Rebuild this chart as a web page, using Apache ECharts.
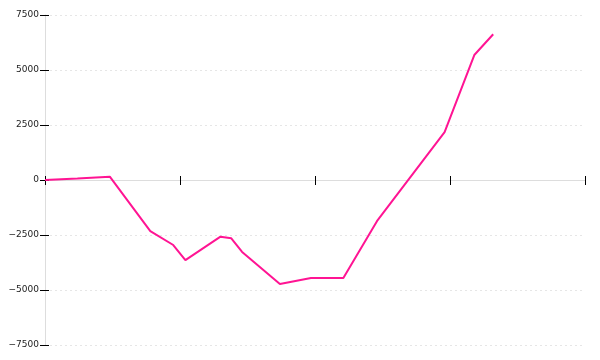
<!DOCTYPE html>
<html>
<head>
<meta charset="utf-8">
<script src="https://cdn.jsdelivr.net/npm/echarts@6/dist/echarts.min.js"></script>
<style>html,body{margin:0;padding:0;background:#fff}#c{width:600px;height:360px}</style>
</head>
<body>
<div id="c"></div>
<script>
// x positions (axis units, 4 ticks of 10) and cumulative values
var xValues = [0, 2.4, 4.8, 7.8, 9.5, 10.4, 13.0, 13.8, 14.6, 17.4, 19.7, 22.1, 24.6, 29.6, 31.8, 33.2];
var yValues = [0, 70, 150, -2320, -2955, -3640, -2575, -2650, -3270, -4730, -4455, -4455, -1860, 2180, 5680, 6625];
var yTicks = [-7500, -5000, -2500, 0, 2500, 5000, 7500];

var data = xValues.map(function (x, i) { return [x, yValues[i]]; });
var font = 'DejaVu Sans';

var chart = echarts.init(document.getElementById('c'), null, {renderer: 'canvas'});
var yBase = {
  type: 'value', min: yTicks[0], max: yTicks[yTicks.length - 1], interval: 2500,
  position: 'left'
};
chart.setOption({
  animation: false,
  grid: {left: 45, right: 15, top: 15, bottom: 15, containLabel: false},
  xAxis: [
    {type: 'value', min: 0, max: 40, interval: 10, position: 'bottom',
     axisLine: {onZero: true, lineStyle: {color: '#dddddd', width: 1}},
     axisTick: {show: true, inside: false, length: 5, lineStyle: {color: '#000'}},
     axisLabel: {show: false}, splitLine: {show: false}},
    {type: 'value', min: 0, max: 40, interval: 10, position: 'bottom',
     axisLine: {show: false, onZero: true},
     axisTick: {show: true, inside: true, length: 4, lineStyle: {color: '#000'}},
     axisLabel: {show: false}, splitLine: {show: false}}
  ],
  yAxis: [
    Object.assign({}, yBase, {
      axisLine: {show: true, onZero: false, lineStyle: {color: '#dddddd'}},
      axisTick: {show: true, inside: false, length: 5, lineStyle: {color: '#000'}},
      axisLabel: {show: true, margin: 6, color: '#222', fontFamily: font, fontSize: 9,
                  formatter: function (v) { return v < 0 ? '\u2212' + Math.abs(v) : String(v); }},
      splitLine: {show: true, lineStyle: {color: '#e6e6e6', type: [2, 3], width: 1}}
    }),
    Object.assign({}, yBase, {
      axisLine: {show: false, onZero: false},
      axisTick: {show: true, inside: true, length: 4, lineStyle: {color: '#000'}},
      axisLabel: {show: false},
      splitLine: {show: false}
    })
  ],
  series: [{
    type: 'line', data: data, xAxisIndex: 0, yAxisIndex: 0,
    showSymbol: false, symbol: 'none',
    lineStyle: {color: '#ff1493', width: 2},
    itemStyle: {color: '#ff1493'}
  }]
});
</script>
</body>
</html>
